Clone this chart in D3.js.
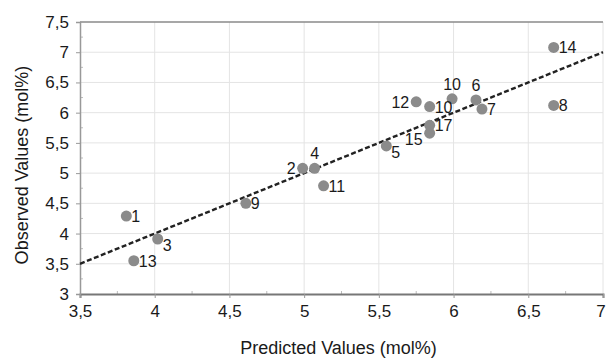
<!DOCTYPE html>
<html>
<head>
<meta charset="utf-8">
<script src="https://cdn.jsdelivr.net/npm/d3@7"></script>
<style>
  body { margin: 0; background: #fff; }
  text { font-family: "Liberation Sans", Arial, sans-serif; fill: #1a1a1a; }
</style>
</head>
<body>
<div id="chart"></div>
<script>
// sample numbers (labels) and values
let labels    = ["1", "3", "13", "9", "11", "2", "4", "5", "15", "17", "10", "12", "10", "6", "7", "14", "8"];
let predicted = [3.81, 4.02, 3.86, 4.61, 5.13, 4.99, 5.07, 5.55, 5.84, 5.84, 5.84, 5.75, 5.99, 6.15, 6.19, 6.67, 6.67];
let observed  = [4.29, 3.91, 3.55, 4.50, 4.79, 5.08, 5.08, 5.45, 5.66, 5.79, 6.10, 6.18, 6.23, 6.21, 6.06, 7.08, 6.12];
// where the number sits relative to its dot
let labelSide = ["r", "rb", "r", "r", "r", "l", "t", "rb", "lb", "r", "r", "l", "t", "t", "r", "r", "r"];
let xTicks = [3.5, 4, 4.5, 5, 5.5, 6, 6.5, 7];
let yTicks = [3, 3.5, 4, 4.5, 5, 5.5, 6, 6.5, 7, 7.5];
let fitLine = [[3.5, 3.5], [7, 7]];

let W = 606, H = 360;
let margin = { top: 22, right: 3, bottom: 66, left: 80 };
let width = W - margin.left - margin.right,
    height = H - margin.top - margin.bottom;

let locale = d3.formatLocale({ decimal: ",", thousands: ".", grouping: [3], currency: ["", ""] });
let fmt = locale.format("~g");

let svg = d3.select("#chart").append("svg")
    .attr("width", W)
    .attr("height", H);

let g = svg.append("g")
    .attr("transform", "translate(" + margin.left + "," + margin.top + ")");

let x = d3.scaleLinear().domain([3.5, 7]).range([0, width]);
let y = d3.scaleLinear().domain([3, 7.5]).range([height, 0]);

// grid
g.selectAll(".vgrid").data(xTicks.slice(1)).enter().append("line")
    .attr("x1", d => x(d)).attr("x2", d => x(d))
    .attr("y1", 0).attr("y2", height)
    .attr("stroke", "#e4e4e4").attr("stroke-width", 1);
g.selectAll(".hgrid").data(yTicks.slice(1, -1)).enter().append("line")
    .attr("x1", 0).attr("x2", width)
    .attr("y1", d => y(d)).attr("y2", d => y(d))
    .attr("stroke", "#e4e4e4").attr("stroke-width", 1);

// top border
g.append("line").attr("x1", 0).attr("x2", width).attr("y1", 0).attr("y2", 0)
    .attr("stroke", "#8a8a8a").attr("stroke-width", 1.5);

// minor ticks
let minorX = d3.range(3.75, 7, 0.5);
let minorY = d3.range(3.25, 7.5, 0.5);
g.selectAll(".mx").data(minorX).enter().append("line")
    .attr("x1", d => x(d)).attr("x2", d => x(d))
    .attr("y1", height - 3).attr("y2", height)
    .attr("stroke", "#bbb");
g.selectAll(".my").data(minorY).enter().append("line")
    .attr("x1", 0).attr("x2", 3)
    .attr("y1", d => y(d)).attr("y2", d => y(d))
    .attr("stroke", "#bbb");

// axes
let xAxis = g.append("g")
    .attr("transform", "translate(0," + height + ")")
    .call(d3.axisBottom(x).tickValues(xTicks).tickFormat(fmt).tickSize(4).tickPadding(7));
let yAxis = g.append("g")
    .call(d3.axisLeft(y).tickValues(yTicks).tickFormat(fmt).tickSize(4).tickPadding(7));

xAxis.select(".domain").attr("stroke", "#777").attr("stroke-width", 2);
yAxis.select(".domain").attr("stroke", "#999").attr("stroke-width", 1.5);
xAxis.selectAll(".tick line").attr("stroke", "#999");
yAxis.selectAll(".tick line").attr("stroke", "#999");
[xAxis, yAxis].forEach(a => a.selectAll("text")
    .style("font-size", "17px")
    .style("font-family", "Liberation Sans, Arial, sans-serif")
    .attr("fill", "#1a1a1a"));
// keep the last x label inside the frame
xAxis.selectAll(".tick text").filter(d => d === 7).attr("dx", -2.5);

// dashed fit line
g.append("path")
    .datum(fitLine)
    .attr("d", d3.line().x(d => x(d[0])).y(d => y(d[1])))
    .attr("fill", "none")
    .attr("stroke", "#222")
    .attr("stroke-width", 2.4)
    .attr("stroke-dasharray", "5,2.5");

// points
let pts = labels.map((l, i) => ({ label: l, px: predicted[i], py: observed[i], side: labelSide[i] }));

g.selectAll(".dot").data(pts).enter().append("circle")
    .attr("cx", d => x(d.px))
    .attr("cy", d => y(d.py))
    .attr("r", 5.5)
    .attr("fill", "#8b8b8b");

g.selectAll(".lbl").data(pts).enter().append("text")
    .attr("x", d => {
        let cx = x(d.px);
        if (d.side === "l" || d.side === "lb") return cx - 7;
        if (d.side === "t") return cx;
        return cx + 5;
    })
    .attr("y", d => {
        let cy = y(d.py);
        if (d.side === "t") return cy - 9;
        if (d.side === "rb" || d.side === "lb") return cy + 12;
        return cy + 6;
    })
    .attr("text-anchor", d => d.side === "t" ? "middle" : (d.side === "l" || d.side === "lb") ? "end" : "start")
    .style("font-size", "16px")
    .text(d => d.label);

// axis titles
svg.append("text")
    .attr("x", margin.left + width / 2 - 3)
    .attr("y", 354)
    .attr("text-anchor", "middle")
    .style("font-size", "18px")
    .text("Predicted Values (mol%)");

svg.append("text")
    .attr("transform", "translate(28,165) rotate(-90)")
    .attr("text-anchor", "middle")
    .style("font-size", "18px")
    .text("Observed Values (mol%)");
</script>
</body>
</html>
